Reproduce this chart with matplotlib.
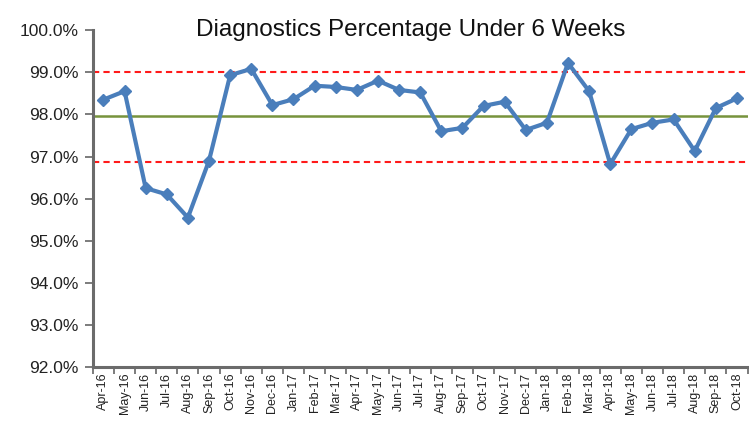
import numpy as np
import matplotlib
matplotlib.use('Agg')
import matplotlib.pyplot as plt
from matplotlib.ticker import FuncFormatter

plt.rcParams['font.family'] = ['Liberation Sans', 'DejaVu Sans']

# monthly data
months = ['Apr-16', 'May-16', 'Jun-16', 'Jul-16', 'Aug-16', 'Sep-16', 'Oct-16', 'Nov-16',
          'Dec-16', 'Jan-17', 'Feb-17', 'Mar-17', 'Apr-17', 'May-17', 'Jun-17', 'Jul-17',
          'Aug-17', 'Sep-17', 'Oct-17', 'Nov-17', 'Dec-17', 'Jan-18', 'Feb-18', 'Mar-18',
          'Apr-18', 'May-18', 'Jun-18', 'Jul-18', 'Aug-18', 'Sep-18', 'Oct-18']
pct = [98.35, 98.55, 96.25, 96.1, 95.55, 96.9, 98.93, 99.08,
       98.22, 98.36, 98.68, 98.65, 98.58, 98.8, 98.58, 98.52,
       97.6, 97.68, 98.2, 98.3, 97.63, 97.8, 99.22, 98.55,
       96.82, 97.65, 97.8, 97.88, 97.13, 98.15, 98.38]
mean_val = 97.95
ucl = 99.0
lcl = 96.88

x = np.arange(len(months))

fig = plt.figure(figsize=(7.49, 4.24), dpi=100)
ax = fig.add_axes([0.124, 0.134, 0.874, 0.795])

ax.axhline(ucl, color='#ff1a1a', linestyle=(0, (3, 2)), linewidth=1.5, zorder=1)
ax.axhline(lcl, color='#ff1a1a', linestyle=(0, (3, 2)), linewidth=1.5, zorder=1)
ax.axhline(mean_val, color='#77933c', linewidth=1.8, zorder=1)

ax.plot(x, pct, color='#4a7ebb', linewidth=3, marker='D', markersize=6,
        markerfacecolor='#4a7ebb', markeredgecolor='#4a7ebb', zorder=3)

ax.set_xlim(-0.5, len(months) - 0.5)
ax.set_ylim(92, 100)
ax.set_yticks(np.arange(92, 100.1, 1))
ax.yaxis.set_major_formatter(FuncFormatter(lambda v, p: '%.1f%%' % v))

# category ticks between labels, like Excel
ax.set_xticks(np.arange(-0.5, len(months), 1))
ax.set_xticklabels([])
ax.set_xticks(x, minor=True)
ax.set_xticklabels(months, minor=True, rotation=90, fontsize=9, color='#222222')
ax.tick_params(axis='x', which='minor', length=0, pad=4)
ax.tick_params(axis='x', which='major', length=5, width=1.2, color='#666666')
ax.tick_params(axis='y', length=6, width=1.2, color='#666666', labelsize=12.5,
               labelcolor='#222222', pad=4)

for s in ['top', 'right']:
    ax.spines[s].set_visible(False)
for s in ['left', 'bottom']:
    ax.spines[s].set_color('#6b6b6b')
    ax.spines[s].set_linewidth(2.2)

fig.text(0.548, 0.915, 'Diagnostics Percentage Under 6 Weeks', ha='center',
         fontsize=17.5, color='#111111')

plt.savefig('out.png', dpi=100)
